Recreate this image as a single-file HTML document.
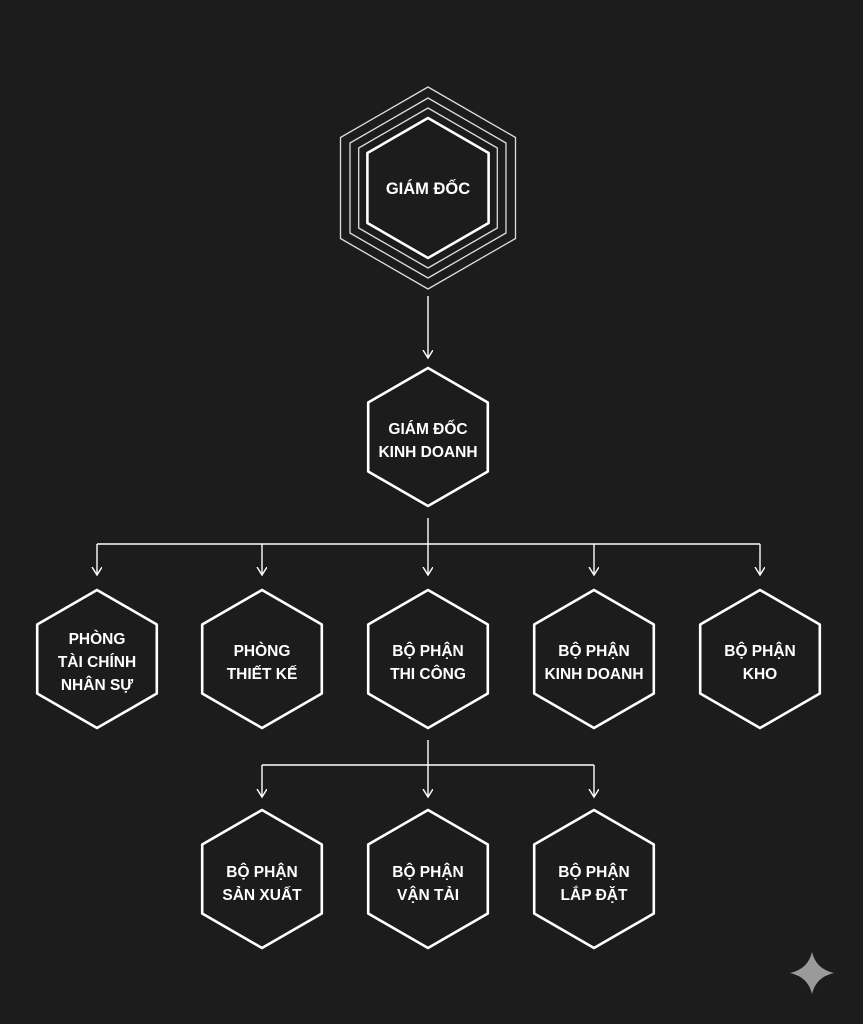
<!DOCTYPE html>
<html><head><meta charset="utf-8"><style>
html,body{margin:0;padding:0;background:#1c1c1c;}
svg{display:block}
text{font-family:"Liberation Sans","DejaVu Sans",sans-serif;font-weight:bold;font-size:15.5px;fill:#fff;text-anchor:middle}
</style></head><body>
<svg width="863" height="1024" viewBox="0 0 863 1024" xmlns="http://www.w3.org/2000/svg">
<defs>
<polygon id="h" points="0,-69 59.8,-34.5 59.8,34.5 0,69 -59.8,34.5 -59.8,-34.5" fill="none" stroke="#fff" stroke-width="2.6" stroke-linejoin="round"/>
<marker id="a" markerWidth="10" markerHeight="12" refX="8" refY="5" orient="auto" markerUnits="userSpaceOnUse">
<path d="M0,0 L8,5 L0,10" fill="none" stroke="#fff" stroke-width="1.4"/>
</marker>
</defs>
<rect width="863" height="1024" fill="#1c1c1c"/>
<g transform="translate(428,188)" fill="none" stroke="#ddd" stroke-linejoin="round">
<polygon points="0,-101 87.5,-50.5 87.5,50.5 0,101 -87.5,50.5 -87.5,-50.5" stroke-width="1.3"/>
<polygon points="0,-90 78,-45 78,45 0,90 -78,45 -78,-45" stroke-width="1.3"/>
<polygon points="0,-80 69.3,-40 69.3,40 0,80 -69.3,40 -69.3,-40" stroke-width="1.3"/>
<polygon points="0,-70 60.6,-35 60.6,35 0,70 -60.6,35 -60.6,-35" stroke="#fff" stroke-width="2.6"/>
</g>
<text x="428" y="194" style="font-size:16.5px">GIÁM ĐỐC</text>
<g stroke="#fff" stroke-width="1.4" fill="none">
<line x1="428" y1="296" x2="428" y2="358" marker-end="url(#a)"/>
<path d="M428,518 V544 M97,544 H760"/>
<line x1="97" y1="544" x2="97" y2="575" marker-end="url(#a)"/>
<line x1="262" y1="544" x2="262" y2="575" marker-end="url(#a)"/>
<line x1="428" y1="544" x2="428" y2="575" marker-end="url(#a)"/>
<line x1="594" y1="544" x2="594" y2="575" marker-end="url(#a)"/>
<line x1="760" y1="544" x2="760" y2="575" marker-end="url(#a)"/>
<path d="M428,740 V765 M262,765 H594"/>
<line x1="262" y1="765" x2="262" y2="797" marker-end="url(#a)"/>
<line x1="428" y1="765" x2="428" y2="797" marker-end="url(#a)"/>
<line x1="594" y1="765" x2="594" y2="797" marker-end="url(#a)"/>
</g>
<use href="#h" x="428" y="437"/>
<text x="428" y="434">GIÁM ĐỐC</text><text x="428" y="457">KINH DOANH</text>
<use href="#h" x="97" y="659"/><use href="#h" x="262" y="659"/><use href="#h" x="428" y="659"/><use href="#h" x="594" y="659"/><use href="#h" x="760" y="659"/>
<text x="97" y="644">PHÒNG</text><text x="97" y="667">TÀI CHÍNH</text><text x="97" y="690">NHÂN SỰ</text>
<text x="262" y="656">PHÒNG</text><text x="262" y="679">THIẾT KẾ</text>
<text x="428" y="656">BỘ PHẬN</text><text x="428" y="679">THI CÔNG</text>
<text x="594" y="656">BỘ PHẬN</text><text x="594" y="679">KINH DOANH</text>
<text x="760" y="656">BỘ PHẬN</text><text x="760" y="679">KHO</text>
<use href="#h" x="262" y="879"/><use href="#h" x="428" y="879"/><use href="#h" x="594" y="879"/>
<text x="262" y="877">BỘ PHẬN</text><text x="262" y="900">SẢN XUẤT</text>
<text x="428" y="877">BỘ PHẬN</text><text x="428" y="900">VẬN TẢI</text>
<text x="594" y="877">BỘ PHẬN</text><text x="594" y="900">LẮP ĐẶT</text>
<path d="M812,952 Q816,969 834,973 Q816,977 812,994 Q808,977 790,973 Q808,969 812,952Z" fill="#9a9a9a"/>
</svg>
</body></html>
